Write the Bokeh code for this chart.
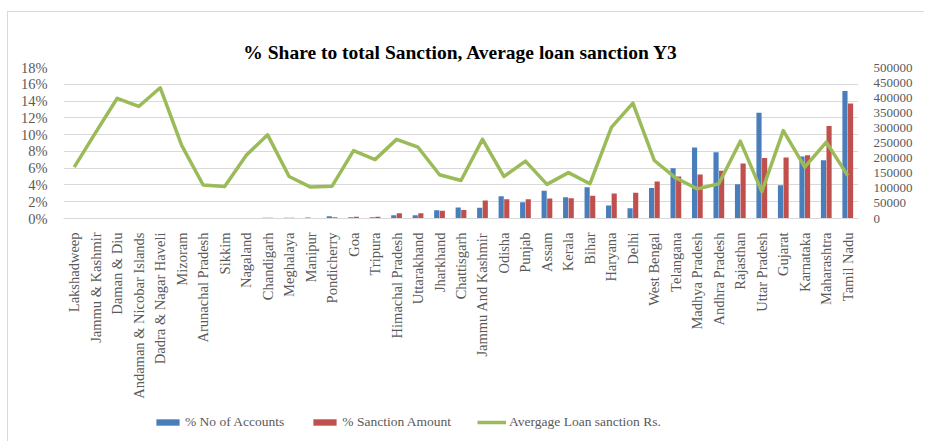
import math
from bokeh.plotting import figure
from bokeh.layouts import column
from bokeh.models import (FactorRange, Range1d, LinearAxis, FixedTicker, PrintfTickFormatter,
                          ColumnDataSource, Legend, LegendItem)
from bokeh.transform import dodge
from bokeh.embed import file_html
from bokeh.resources import INLINE

states = ["Lakshadweep", "Jammu & Kashmir", "Daman & Diu", "Andaman & Nicobar Islands",
          "Dadra & Nagar Haveli", "Mizoram", "Arunachal Pradesh", "Sikkim", "Nagaland",
          "Chandigarh", "Meghalaya", "Manipur", "Pondicherry", "Goa", "Tripura",
          "Himachal Pradesh", "Uttarakhand", "Jharkhand", "Chattisgarh", "Jammu And Kashmir",
          "Odisha", "Punjab", "Assam", "Kerala", "Bihar", "Haryana", "Delhi", "West Bengal",
          "Telangana", "Madhya Pradesh", "Andhra Pradesh", "Rajasthan", "Uttar Pradesh",
          "Gujarat", "Karnataka", "Maharashtra", "Tamil Nadu"]
pct_accounts = [0.0, 0.0, 0.01, 0.01, 0.02, 0.03, 0.05, 0.06, 0.05, 0.1, 0.1, 0.12,
                0.28, 0.16, 0.16, 0.4, 0.4, 0.99, 1.31, 1.27, 2.66, 1.94, 3.3, 2.54, 3.73,
                1.55, 1.23, 3.65, 6.0, 8.45, 7.9, 4.09, 12.6, 3.97, 7.4, 6.94, 15.2]
pct_sanction = [0.0, 0.0, 0.01, 0.02, 0.03, 0.04, 0.05, 0.05, 0.06, 0.08, 0.09, 0.06,
                0.16, 0.2, 0.2, 0.63, 0.63, 0.91, 1.0, 2.14, 2.3, 2.3, 2.38, 2.42, 2.7,
                2.98, 3.06, 4.4, 5.0, 5.24, 5.7, 6.55, 7.2, 7.26, 7.55, 11.03, 13.7]
avg_loan = [170000, 285000, 398000, 371000, 433000, 242000, 111000, 106000, 209000, 277000,
            139000, 104000, 107000, 225000, 195000, 262000, 236000, 145000, 126000, 262000,
            139000, 190000, 113000, 152000, 115000, 302000, 382000, 192000, 134000, 98000,
            115000, 256000, 89000, 291000, 170000, 253000, 142000]
left_ticks = [0, 2, 4, 6, 8, 10, 12, 14, 16, 18]
right_ticks = [0, 50000, 100000, 150000, 200000, 250000, 300000, 350000, 400000, 450000, 500000]
series_names = ["% No of Accounts", "% Sanction Amount", "Avergage Loan sanction Rs."]

FONT = "Liberation Serif"
GREY = "#595959"
BLUE = "#4a7ebb"
RED = "#c0504d"
GREEN = "#9bbb59"

src = ColumnDataSource(dict(state=states, acc=pct_accounts, amt=pct_sanction, avg=avg_loan))

p = figure(width=916, height=391,
           x_range=FactorRange(factors=states, range_padding=0),
           y_range=Range1d(0, 18), output_backend="svg", toolbar_location=None,
           min_border_left=55, min_border_right=66, min_border_top=55, min_border_bottom=185)
p.extra_y_ranges = {"amt": Range1d(0, 500000)}
p.outline_line_color = None

p.title.text = "% Share to total Sanction, Average loan sanction Y3"
p.title.align = "center"
p.title.text_font = FONT
p.title.text_font_size = "19.5px"
p.title.text_font_style = "bold"
p.title.text_color = "#000000"

r1 = p.vbar(x=dodge("state", -0.13, range=p.x_range), top="acc", width=0.24, source=src,
            fill_color=BLUE, line_color=None)
r2 = p.vbar(x=dodge("state", 0.13, range=p.x_range), top="amt", width=0.24, source=src,
            fill_color=RED, line_color=None)
r3 = p.line(x="state", y="avg", source=src, y_range_name="amt", line_color=GREEN,
            line_width=3.5, line_join="round")

p.xgrid.grid_line_color = None
p.ygrid.ticker = FixedTicker(ticks=left_ticks)
p.ygrid.grid_line_color = "#d9d9d9"
p.ygrid.grid_line_width = 1

ya = p.yaxis[0]
ya.ticker = FixedTicker(ticks=left_ticks)
ya.formatter = PrintfTickFormatter(format="%d%%")
ya.axis_line_color = None
ya.major_tick_line_color = None
ya.minor_tick_line_color = None
ya.major_label_text_font = FONT
ya.major_label_text_font_size = "14.5px"
ya.major_label_text_color = GREY
ya.major_label_standoff = 10

ra = LinearAxis(y_range_name="amt", ticker=FixedTicker(ticks=right_ticks),
                formatter=PrintfTickFormatter(format="%d"))
ra.axis_line_color = None
ra.major_tick_line_color = None
ra.minor_tick_line_color = None
ra.major_label_text_font = FONT
ra.major_label_text_font_size = "13px"
ra.major_label_text_color = GREY
ra.major_label_standoff = 9
p.add_layout(ra, "right")

xa = p.xaxis[0]
xa.axis_line_color = "#d9d9d9"
xa.major_tick_line_color = None
xa.minor_tick_line_color = None
xa.major_label_orientation = math.pi / 2
xa.major_label_text_font = FONT
xa.major_label_text_font_size = "14.5px"
xa.major_label_text_color = GREY
xa.major_label_standoff = 8

# legend strip below the chart (own small figure so it sits under the rotated labels);
# its renderers are hidden, only their legend swatches are drawn
lf = figure(width=916, height=38, x_range=p.x_range, y_range=Range1d(-2, -1),
            output_backend="svg", toolbar_location=None,
            x_axis_location=None, y_axis_location=None,
            min_border_left=0, min_border_right=0, min_border_top=0, min_border_bottom=0)
lf.outline_line_color = None
lf.grid.grid_line_color = None
l1 = lf.vbar(x=dodge("state", -0.13, range=p.x_range), top="acc", width=0.24, source=src,
             fill_color=BLUE, line_color=None)
l2 = lf.vbar(x=dodge("state", 0.13, range=p.x_range), top="amt", width=0.24, source=src,
             fill_color=RED, line_color=None)
l3 = lf.line(x="state", y="avg", source=src, line_color=GREEN, line_width=3.5)
for r in (l1, l2, l3):
    r.visible = False

legend = Legend(items=[LegendItem(label=series_names[0], renderers=[l1]),
                       LegendItem(label=series_names[1], renderers=[l2]),
                       LegendItem(label=series_names[2], renderers=[l3])],
                orientation="horizontal", location=(90, 11))
legend.label_text_font = FONT
legend.label_text_font_size = "13.5px"
legend.label_text_color = GREY
legend.glyph_width = 29
legend.glyph_height = 8
legend.label_standoff = 3
legend.spacing = 26
legend.border_line_color = None
legend.background_fill_alpha = 0
legend.padding = 4
legend.margin = 0
legend.click_policy = "none"
lf.add_layout(legend, "center")

layout = column(p, lf, spacing=0)
layout.styles = {"border-left": "1px solid #d9d9d9", "border-top": "1px solid #d9d9d9",
                 "margin-left": "7px", "margin-top": "11px"}

open("out.html", "w").write(file_html(layout, INLINE))
